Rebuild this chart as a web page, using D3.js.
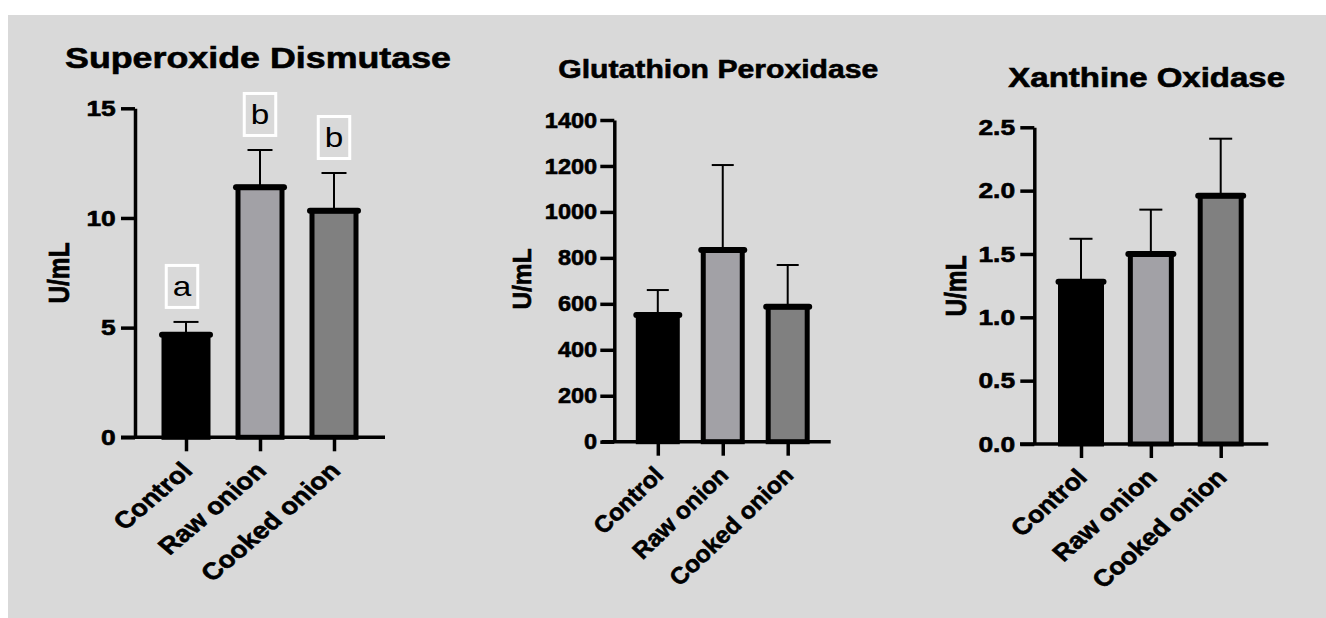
<!DOCTYPE html>
<html>
<head>
<meta charset="utf-8">
<script src="https://cdn.jsdelivr.net/npm/d3@7"></script>
<style>
  html, body { margin: 0; padding: 0; background: #ffffff; }
  svg { display: block; }
  text { font-family: "Liberation Sans", Arial, Helvetica, sans-serif; }
  text.heavy { stroke: #000; stroke-width: 0.6px; }
</style>
</head>
<body>
<svg id="chart" width="1326" height="618"></svg>
<script>
// ---------------- data ----------------
const categories = ["Control", "Raw onion", "Cooked onion"];

const sodMean = [4.68, 11.40, 10.33];
const sodSD = [0.58, 1.70, 1.72];
const sodLetters = ["a", "b", "b"];
const sodTicks = [0, 5, 10, 15];

const gpxMean = [551, 834, 587];
const gpxSD = [109, 370, 182];
const gpxTicks = [0, 200, 400, 600, 800, 1000, 1200, 1400];

const xoMean = [1.28, 1.50, 1.96];
const xoSD = [0.34, 0.35, 0.45];
const xoTicks = [0, 0.5, 1.0, 1.5, 2.0, 2.5];

const panelTitles = ["Superoxide Dismutase", "Glutathion Peroxidase", "Xanthine Oxidase"];
const yAxisLabel = "U/mL";
const barColors = ["#000000", "#a2a1a6", "#808080"];

// ---------------- layout ----------------
const layouts = [
  { axisX: 135, yBottom: 437.3, yTop: 108.3, firstX: 186, lastX: 334, barW: 44, capHalf: 12.5,
    xAxisL: 121, xAxisR: 385, title: { x1: 65, x2: 451, y: 68.3, size: 30 },
    ylab: { x: 58, y: 273 }, tickSize: 22, sxTick: 1.2, sxCat: 1.17, fmt: d3.format("d") },
  { axisX: 614.3, yBottom: 441.7, yTop: 120, firstX: 657.8, lastX: 787.7, barW: 39, capHalf: 11,
    xAxisL: 601.7, xAxisR: 830.7, title: { x1: 558.3, x2: 878.3, y: 78.3, size: 26 },
    ylab: { x: 521.7, y: 279 }, tickSize: 22, sxTick: 1.07, sxCat: 1.04, fmt: d3.format("d") },
  { axisX: 1034.3, yBottom: 444, yTop: 127.3, firstX: 1081, lastX: 1220.7, barW: 41, capHalf: 11.5,
    xAxisL: 1020, xAxisR: 1268.3, title: { x1: 1008.3, x2: 1285, y: 86.7, size: 27 },
    ylab: { x: 955, y: 286 }, tickSize: 22, sxTick: 1.2, sxCat: 1.13, fmt: d3.format(".1f") }
];

const panels = [
  { means: sodMean, sds: sodSD, ticks: sodTicks, letters: sodLetters },
  { means: gpxMean, sds: gpxSD, ticks: gpxTicks, letters: null },
  { means: xoMean, sds: xoSD, ticks: xoTicks, letters: null }
];

const svg = d3.select("#chart");

// grey background
svg.append("rect").attr("x", 8).attr("y", 15).attr("width", 1326 - 8).attr("height", 618 - 15)
  .attr("fill", "#d9d9d9");

panels.forEach((p, i) => {
  const L = layouts[i];
  const g = svg.append("g");
  const yMax = p.ticks[p.ticks.length - 1];
  const y = d3.scaleLinear().domain([0, yMax]).range([L.yBottom, L.yTop]);
  const x = d3.scalePoint().domain(categories).range([L.firstX, L.lastX]);

  const rows = categories.map((c, k) => ({ cat: c, mean: p.means[k], sd: p.sds[k], color: barColors[k],
    letter: p.letters ? p.letters[k] : null }));

  // title
  g.append("text").attr("class", "heavy")
    .attr("x", L.title.x1).attr("y", L.title.y)
    .attr("font-size", L.title.size).attr("font-weight", "bold").attr("fill", "#000")
    .attr("textLength", L.title.x2 - L.title.x1).attr("lengthAdjust", "spacingAndGlyphs")
    .text(panelTitles[i]);

  // y axis label
  g.append("text").attr("class", "heavy")
    .attr("transform", `translate(${L.ylab.x},${L.ylab.y}) scale(${L.sxTick},1) rotate(-90)`)
    .attr("text-anchor", "middle").attr("dy", "0.36em")
    .attr("font-size", 24.5).attr("font-weight", "bold").attr("fill", "#000")
    .text(yAxisLabel);

  // bars
  g.selectAll("rect.bar").data(rows).join("rect").attr("class", "bar")
    .attr("x", d => x(d.cat) - L.barW / 2).attr("width", L.barW)
    .attr("y", d => y(d.mean)).attr("height", d => y(0) - y(d.mean))
    .attr("fill", d => d.color).attr("stroke", "#000").attr("stroke-width", 5);

  // error bars
  g.selectAll("line.err").data(rows).join("line").attr("class", "err")
    .attr("x1", d => x(d.cat)).attr("x2", d => x(d.cat))
    .attr("y1", d => y(d.mean)).attr("y2", d => y(d.mean + d.sd))
    .attr("stroke", "#000").attr("stroke-width", 2);
  g.selectAll("line.cap").data(rows).join("line").attr("class", "cap")
    .attr("x1", d => x(d.cat) - L.capHalf).attr("x2", d => x(d.cat) + L.capHalf)
    .attr("y1", d => y(d.mean + d.sd)).attr("y2", d => y(d.mean + d.sd))
    .attr("stroke", "#000").attr("stroke-width", 2);

  // bar top (mean line)
  g.selectAll("line.top").data(rows).join("line").attr("class", "top")
    .attr("x1", d => x(d.cat) - L.barW / 2 - 2).attr("x2", d => x(d.cat) + L.barW / 2 + 2)
    .attr("y1", d => y(d.mean)).attr("y2", d => y(d.mean))
    .attr("stroke", "#000").attr("stroke-width", 6).attr("stroke-linecap", "round");

  // y axis
  const yAxis = d3.axisLeft(y).tickValues(p.ticks).tickSize(14).tickSizeOuter(0).tickPadding(2)
    .tickFormat(L.fmt);
  const ya = g.append("g").attr("transform", `translate(${L.axisX},0)`).call(yAxis);
  ya.select(".domain").attr("stroke-width", 3.5);
  ya.selectAll(".tick line").attr("stroke-width", 3.5);
  ya.selectAll(".tick text").attr("class", "heavy")
    .attr("font-size", L.tickSize).attr("font-weight", "bold").attr("fill", "#000")
    .attr("font-family", "'Liberation Sans', Arial, sans-serif")
    .attr("transform", `scale(${L.sxTick},1)`);

  // x axis baseline
  g.append("line").attr("x1", L.xAxisL).attr("x2", L.xAxisR)
    .attr("y1", y(0)).attr("y2", y(0)).attr("stroke", "#000").attr("stroke-width", 3.5);
  const xAxis = d3.axisBottom(x).tickSize(14).tickSizeOuter(0).tickFormat("");
  const xa = g.append("g").attr("transform", `translate(0,${y(0)})`).call(xAxis);
  xa.select(".domain").remove();
  xa.selectAll(".tick line").attr("stroke-width", 3.5);

  // rotated category labels
  g.selectAll("text.cat").data(rows).join("text").attr("class", "cat heavy")
    .attr("transform", d => `translate(${x(d.cat) + 1},${y(0) + 29}) scale(${L.sxCat},1) rotate(-45)`)
    .attr("text-anchor", "end").attr("dy", "0.35em")
    .attr("font-size", 23.5).attr("font-weight", "bold").attr("fill", "#000")
    .text(d => d.cat);

  // significance letters in white boxes
  if (p.letters) {
    const bw = 31.5, bh = 42;
    const lg = g.selectAll("g.sig").data(rows).join("g").attr("class", "sig");
    lg.append("rect")
      .attr("x", d => x(d.cat) - bw / 2 - (d.cat === categories[0] ? 4 : 0))
      .attr("y", d => y(d.mean + d.sd) - 14.5 - bh)
      .attr("width", bw).attr("height", bh)
      .attr("fill", "none").attr("stroke", "#ffffff").attr("stroke-width", 3);
    lg.append("text")
      .attr("transform", d => `translate(${x(d.cat) - (d.cat === categories[0] ? 4 : 0)},${y(d.mean + d.sd) - 26}) scale(1.19,1)`)
      .attr("text-anchor", "middle")
      .attr("font-size", 28).attr("fill", "#000")
      .text(d => d.letter);
  }
});
</script>
</body>
</html>
